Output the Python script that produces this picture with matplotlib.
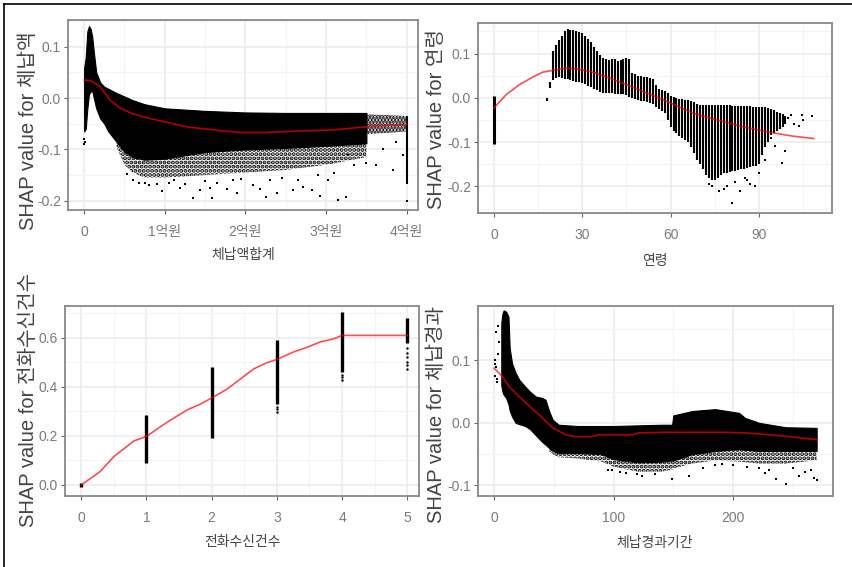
import numpy as np
import matplotlib
matplotlib.use("Agg")
import matplotlib.pyplot as plt
from matplotlib.lines import Line2D

plt.rcParams['font.family'] = ['Liberation Sans', 'Noto Sans CJK KR', 'DejaVu Sans']
plt.rcParams['axes.unicode_minus'] = False
plt.rcParams['hatch.linewidth'] = 2.0
plt.rcParams['hatch.color'] = 'black'

# ---- panel 1: 체납액합계 (unit: 억원) ----
amt_x = [0.0, 0.02, 0.04, 0.06, 0.08, 0.1, 0.12, 0.15, 0.2, 0.25, 0.3, 0.4, 0.5, 0.6,
         0.75, 1.0, 1.5, 2.0, 2.5, 3.0, 3.5]
amt_hi = [0.058, 0.08, 0.13, 0.14, 0.135, 0.12, 0.09, 0.05, 0.03, 0.022, 0.018, 0.01,
          0.003, -0.004, -0.012, -0.02, -0.025, -0.028, -0.029, -0.029, -0.029]
amt_lo = [-0.065, -0.06, -0.02, 0.008, 0.012, 0.015, 0.0, -0.02, -0.04, -0.05, -0.065,
          -0.085, -0.105, -0.115, -0.12, -0.118, -0.105, -0.1, -0.097, -0.093, -0.088]
# sparser, speckled zone below the solid cloud
amt_mid_x = [0.4, 0.5, 0.6, 0.75, 1.0, 1.5, 2.0, 2.5, 3.0, 3.5]
amt_mid_lo = [-0.095, -0.13, -0.145, -0.155, -0.155, -0.15, -0.145, -0.14, -0.13, -0.115]
amt_tail_x = [3.5, 3.75, 4.0]
amt_tail_hi = [-0.032, -0.033, -0.035]
amt_tail_lo = [-0.07, -0.068, -0.065]
amt_pts_x = [0.0, 0.0, 0.01, 0.53, 0.6, 0.68, 0.755, 0.8, 0.9, 0.97, 1.05, 1.12, 1.19, 1.25,
             1.35, 1.44, 1.5, 1.56, 1.58, 1.65, 1.77, 1.85, 1.89, 1.95, 2.1, 2.18, 2.26, 2.3,
             2.39, 2.45, 2.59, 2.65, 2.72, 2.82, 2.9, 2.92, 3.03, 3.1, 3.15, 3.25, 3.27, 3.35,
             3.5, 3.62, 3.7, 3.83, 3.87, 3.95, 4.0, 4.0, 4.0, 4.0]
amt_pts_y = [-0.08, -0.09, -0.085, -0.147, -0.16, -0.165, -0.166, -0.17, -0.168, -0.181,
             -0.165, -0.16, -0.176, -0.168, -0.195, -0.18, -0.162, -0.175, -0.195, -0.165,
             -0.178, -0.16, -0.184, -0.158, -0.17, -0.178, -0.192, -0.16, -0.185, -0.155,
             -0.18, -0.16, -0.174, -0.179, -0.15, -0.19, -0.16, -0.145, -0.198, -0.192,
             -0.11, -0.13, -0.127, -0.13, -0.1, -0.14, -0.085, -0.11, -0.2, -0.1, -0.14, -0.165]
amt_fit_x = [0.0, 0.08, 0.2, 0.32, 0.45, 0.61, 0.82, 1.02, 1.27, 1.6, 1.93, 2.26, 2.67,
             3.09, 3.5, 4.0]
amt_fit_y = [0.035, 0.034, 0.022, -0.004, -0.02, -0.031, -0.04, -0.047, -0.056, -0.062,
             -0.067, -0.067, -0.064, -0.062, -0.056, -0.051]

# ---- panel 2: 연령 ----
ages = list(range(18, 100))
age_hi = [0.0, 0.035, 0.105, 0.12, 0.13, 0.14, 0.152, 0.155, 0.154, 0.153, 0.15, 0.148,
          0.147, 0.14, 0.132, 0.125, 0.115, 0.105, 0.097, 0.09, 0.088, 0.085, 0.088, 0.087,
          0.083, 0.085, 0.088, 0.09, 0.088, 0.055, 0.053, 0.05, 0.05, 0.048, 0.046, 0.045,
          0.042, 0.03, 0.02, 0.017, 0.015, 0.01, 0.005, 0.003, 0.0, -0.002, -0.003, -0.004,
          -0.005, -0.007, -0.01, -0.013, -0.016, -0.017, -0.017, -0.017, -0.017, -0.017,
          -0.017, -0.017, -0.017, -0.017, -0.017, -0.018, -0.018, -0.018, -0.018, -0.018,
          -0.018, -0.019, -0.02, -0.02, -0.02, -0.02, -0.021, -0.022, -0.025, -0.028,
          -0.032, -0.034, -0.036, -0.04]
age_lo = [-0.008, 0.022, 0.04, 0.045, 0.048, 0.045, 0.043, 0.042, 0.04, 0.038, 0.036, 0.035,
          0.034, 0.031, 0.027, 0.024, 0.02, 0.017, 0.014, 0.012, 0.011, 0.01, 0.01, 0.009,
          0.009, 0.008, 0.008, 0.007, 0.003, 0.0, -0.002, -0.004, -0.006, -0.008, -0.01,
          -0.012, -0.015, -0.02, -0.025, -0.03, -0.035, -0.05, -0.065, -0.075, -0.08, -0.086,
          -0.09, -0.095, -0.1, -0.11, -0.125, -0.14, -0.15, -0.16, -0.175, -0.18, -0.185,
          -0.185, -0.18, -0.175, -0.17, -0.17, -0.168, -0.165, -0.165, -0.162, -0.16, -0.16,
          -0.158, -0.156, -0.155, -0.154, -0.15, -0.13, -0.11, -0.1, -0.085, -0.08, -0.075,
          -0.07, -0.065, -0.06]
age0_hi = 0.005
age0_lo = -0.105
age_pts_x = [101, 103.5, 104.6, 105, 108, 95.6, 99, 97.9, 88.8, 81, 83.7, 87, 76.4, 73, 85.4,
             90, 91, 92, 79, 82, 86, 74, 78, 94, 100, 102]
age_pts_y = [-0.038, -0.064, -0.038, -0.05, -0.04, -0.109, -0.12, -0.147, -0.2, -0.237,
             -0.21, -0.195, -0.21, -0.195, -0.18, -0.17, -0.12, -0.14, -0.2, -0.19, -0.185,
             -0.2, -0.205, -0.09, -0.045, -0.06]
age_fit_x = [0, 4.2, 8.7, 13.2, 16.6, 20, 24.5, 27.9, 33.5, 39.2, 44.8, 50.5, 56, 61.7,
             67.4, 73, 78.7, 84.3, 90, 95.6, 101, 108.6]
age_fit_y = [-0.023, 0.0075, 0.03, 0.047, 0.058, 0.062, 0.067, 0.066, 0.058, 0.045, 0.03,
             0.015, 0.0, -0.017, -0.034, -0.045, -0.055, -0.065, -0.073, -0.08, -0.086, -0.092]

# ---- panel 3: 전화수신건수 ----
calls = [0, 1, 2, 3, 4, 5]
call_hi = [0.007, 0.286, 0.48, 0.59, 0.705, 0.68]
call_lo = [-0.01, 0.089, 0.19, 0.33, 0.46, 0.58]
call_pts_x = [3, 3, 3, 4, 4, 4, 5, 5, 5, 5, 5, 5]
call_pts_y = [0.32, 0.31, 0.296, 0.45, 0.44, 0.427, 0.56, 0.54, 0.52, 0.5, 0.49, 0.473]
call_fit_x = [0, 0.29, 0.5, 0.81, 1, 1.22, 1.42, 1.63, 1.83, 2, 2.23, 2.43, 2.64, 2.84, 3,
              3.25, 3.45, 3.66, 3.87, 4, 5]
call_fit_y = [0.0, 0.055, 0.116, 0.18, 0.198, 0.239, 0.273, 0.307, 0.33, 0.355, 0.39, 0.43,
              0.473, 0.498, 0.512, 0.542, 0.56, 0.583, 0.596, 0.61, 0.61]

# ---- panel 4: 체납경과기간 ----
per_x = [6, 7, 8, 10, 12, 13, 15, 18, 21, 26, 30, 35, 40, 43, 46, 49, 54, 70, 90, 100, 120,
         140, 149, 150, 166, 185, 205, 210, 222, 244, 270]
per_hi = [0.16, 0.175, 0.18, 0.178, 0.17, 0.12, 0.095, 0.08, 0.069, 0.058, 0.05, 0.042, 0.04,
          0.037, 0.019, 0.005, -0.003, -0.005, -0.005, -0.005, -0.004, -0.003, -0.003, 0.012,
          0.019, 0.022, 0.016, 0.008, 0.0, -0.007, -0.008]
per_lo = [0.06, 0.05, 0.045, 0.04, 0.03, 0.02, 0.01, 0.0, -0.002, -0.005, -0.01, -0.02, -0.03,
          -0.035, -0.04, -0.045, -0.048, -0.048, -0.05, -0.058, -0.063, -0.062, -0.06, -0.06,
          -0.05, -0.045, -0.042, -0.043, -0.045, -0.045, -0.045]
per_mid_x = [46, 49, 54, 70, 90, 100, 120, 140, 149, 150, 166, 185, 205, 210, 222, 244, 270]
per_mid_lo = [-0.045, -0.05, -0.055, -0.057, -0.062, -0.07, -0.078, -0.078, -0.075, -0.073,
              -0.065, -0.06, -0.062, -0.063, -0.065, -0.065, -0.06]
per_pts_x = [0.5, 1, 1.5, 2, 2.5, 0.8, 1.8, 3, 4, 3.5, 99, 110, 124, 135, 149, 163, 175, 191,
             200, 212, 222, 227, 236, 244, 255, 260, 268, 270, 185, 230, 250, 265, 120, 95, 105]
per_pts_y = [0.095, 0.1, 0.09, 0.07, 0.065, 0.075, 0.145, 0.155, 0.13, 0.11, -0.075, -0.08,
             -0.085, -0.082, -0.09, -0.085, -0.072, -0.065, -0.068, -0.07, -0.072, -0.08,
             -0.09, -0.098, -0.085, -0.078, -0.088, -0.092, -0.068, -0.075, -0.072, -0.075,
             -0.082, -0.075, -0.078]
per_fit_x = [0, 7, 12.5, 21, 29.3, 37.7, 49, 60, 68, 82, 88, 116, 121, 144, 194, 210.6, 230,
             247, 270.6]
per_fit_y = [0.0875, 0.074, 0.058, 0.042, 0.027, 0.013, -0.008, -0.019, -0.022, -0.022,
             -0.019, -0.019, -0.016, -0.015, -0.015, -0.016, -0.019, -0.022, -0.027]


def style_axis(ax, xlim, ylim, xmaj, xmin, ymaj, ymin, xlab, ylab):
    """ggplot theme_bw look."""
    ax.set_xlim(xlim)
    ax.set_ylim(ylim)
    ax.set_xticks(xmaj)
    ax.set_xticklabels(xlab)
    ax.set_yticks(ymaj)
    ax.set_yticklabels(ylab)
    ax.set_xticks(xmin, minor=True)
    ax.set_yticks(ymin, minor=True)
    ax.grid(which='major', color='#EBEBEB', lw=1.1, zorder=0)
    ax.grid(which='minor', color='#F4F4F4', lw=0.8, zorder=0)
    ax.set_axisbelow(True)
    ax.tick_params(which='major', direction='out', length=3, width=0.8, color='#666666',
                   labelcolor='#7a7a7a', labelsize=10, pad=2)
    ax.tick_params(axis='x', which='major', pad=8)
    ax.tick_params(which='minor', length=0)
    for s in ax.spines.values():
        s.set_color('#888888')
        s.set_linewidth(1.3)


def dotted_zone(ax, x, lo, hi, hatch='....'):
    """Speckled band standing in for the thinning part of a point cloud."""
    ax.fill_between(x, lo, hi, facecolor='none', edgecolor='black', hatch=hatch,
                    lw=0, zorder=2)


fig = plt.figure(figsize=(8.52, 5.67), dpi=100)
W, H = 852.0, 567.0


def box(l, t, r, b):
    return [l / W, 1 - b / H, (r - l) / W, (b - t) / H]


red = dict(color='red', alpha=0.7, lw=1.2, zorder=5)

# panel 1
ax1 = fig.add_axes(box(68, 20, 418, 210))
ax1.fill_between(amt_x, amt_lo, amt_hi, color='black', lw=0.8, edgecolor='black', zorder=2)
dotted_zone(ax1, amt_mid_x, amt_mid_lo, amt_lo[-len(amt_mid_x):])
dotted_zone(ax1, amt_tail_x, amt_tail_lo, amt_tail_hi, hatch='.....')
ax1.scatter(amt_pts_x, amt_pts_y, s=2.5, c='black', marker='s', lw=0, zorder=3)
ax1.vlines([4.0], [-0.165], [-0.035], color='black', lw=1.5, zorder=3)
ax1.plot(amt_fit_x, amt_fit_y, **red)
style_axis(ax1, (-0.2, 4.14), (-0.218, 0.152), [0, 1, 2, 3, 4], [0.5, 1.5, 2.5, 3.5],
           [0.1, 0.0, -0.1, -0.2], [0.15, 0.05, -0.05, -0.15],
           ['0', '1억원', '2억원', '3억원', '4억원'], ['0.1', '0.0', '-0.1', '-0.2'])

# panel 2
ax2 = fig.add_axes(box(478, 23, 832, 213))
ax2.vlines(ages, age_lo, age_hi, color='black', lw=1.5, zorder=2)
ax2.vlines([0], [age0_lo], [age0_hi], color='black', lw=2.2, zorder=2)
ax2.scatter(age_pts_x, age_pts_y, s=3, c='black', marker='s', lw=0, zorder=3)
ax2.plot(age_fit_x, age_fit_y, **red)
style_axis(ax2, (-5.4, 114.8), (-0.26, 0.169), [0, 30, 60, 90], [15, 45, 75, 105],
           [0.1, 0.0, -0.1, -0.2], [0.15, 0.05, -0.05, -0.15, -0.25],
           ['0', '30', '60', '90'], ['0.1', '0.0', '-0.1', '-0.2'])

# panel 3
ax3 = fig.add_axes(box(65, 306, 419, 496))
ax3.vlines(calls, call_lo, call_hi, color='black', lw=2.4, zorder=2)
ax3.scatter(call_pts_x, call_pts_y, s=3, c='black', lw=0, zorder=3)
ax3.plot(call_fit_x, call_fit_y, **red)
style_axis(ax3, (-0.25, 5.18), (-0.045, 0.73), [0, 1, 2, 3, 4, 5],
           [0.5, 1.5, 2.5, 3.5, 4.5], [0.0, 0.2, 0.4, 0.6], [0.1, 0.3, 0.5, 0.7],
           ['0', '1', '2', '3', '4', '5'], ['0.0', '0.2', '0.4', '0.6'])

# panel 4
ax4 = fig.add_axes(box(478, 306, 833, 496))
ax4.fill_between(per_x, per_lo, per_hi, color='black', lw=0.8, edgecolor='black', zorder=2)
dotted_zone(ax4, per_mid_x, per_mid_lo, per_lo[-len(per_mid_x):])
ax4.scatter(per_pts_x, per_pts_y, s=3, c='black', marker='s', lw=0, zorder=3)
ax4.plot(per_fit_x, per_fit_y, **red)
style_axis(ax4, (-13.5, 283.7), (-0.117, 0.187), [0, 100, 200], [50, 150, 250],
           [0.1, 0.0, -0.1], [0.15, 0.05, -0.05],
           ['0', '100', '200'], ['0.1', '0.0', '-0.1'])

# axis titles
tcol = '#444444'
fig.text(243 / W, 1 - 255 / H, '체납액합계', ha='center', va='center', fontsize=10, color=tcol)
fig.text(655 / W, 1 - 261 / H, '연령', ha='center', va='center', fontsize=10, color=tcol)
fig.text(242 / W, 1 - 542 / H, '전화수신건수', ha='center', va='center', fontsize=10, color=tcol)
fig.text(655 / W, 1 - 543 / H, '체납경과기간', ha='center', va='center', fontsize=10, color=tcol)

fig.text(28 / W, 1 - 230 / H, 'SHAP value for 체납액', rotation=90, ha='center', va='bottom',
         fontsize=14.5, color=tcol)
fig.text(437 / W, 1 - 119 / H, 'SHAP value for 연령', rotation=90, ha='center', va='center',
         fontsize=14.5, color=tcol)
fig.text(28 / W, 1 - 400 / H, 'SHAP value for 전화수신건수', rotation=90, ha='center',
         va='center', fontsize=14.5, color=tcol)
fig.text(437 / W, 1 - 523 / H, 'SHAP value for 체납경과', rotation=90, ha='center',
         va='bottom', fontsize=14.5, color=tcol)

# outer frame (top and left edges only)
fig.add_artist(Line2D([4 / W, 1], [1 - 4 / H, 1 - 4 / H], color='black', lw=1.2))
fig.add_artist(Line2D([4 / W, 4 / W], [0, 1 - 4 / H], color='black', lw=1.2))

fig.savefig('out.png', dpi=100)
